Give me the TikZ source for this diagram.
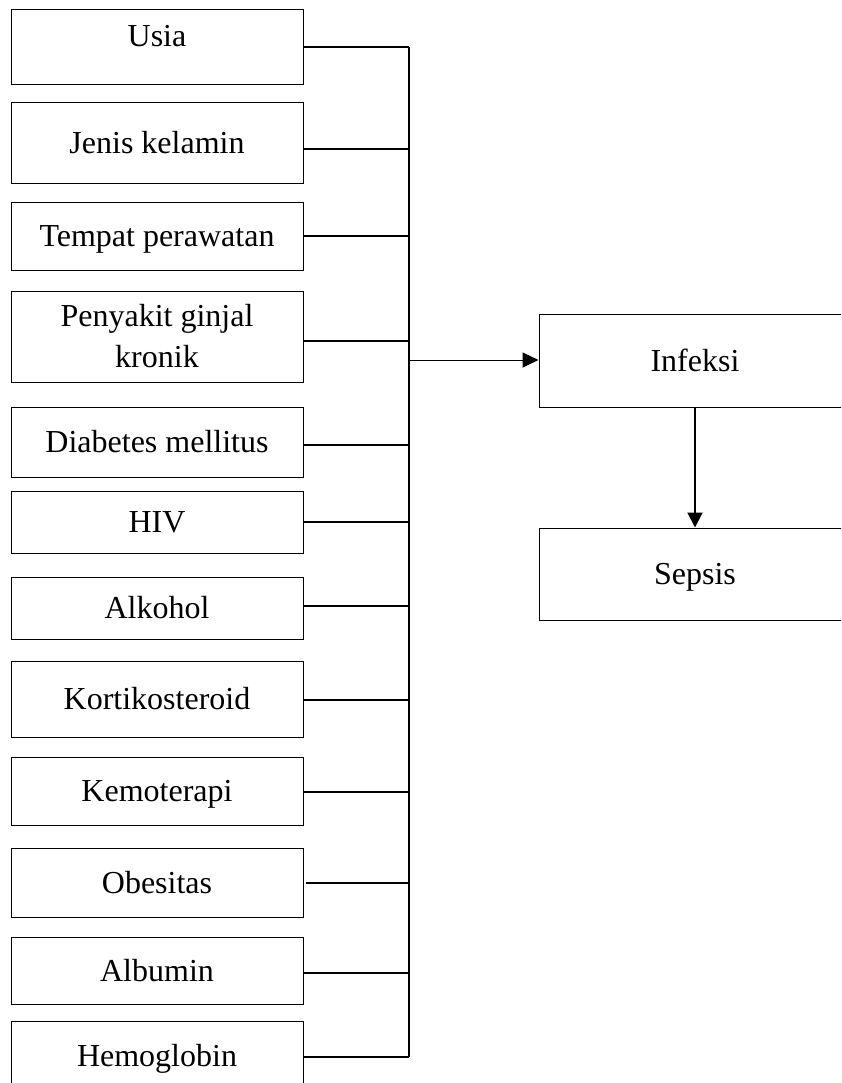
\documentclass[tikz,border=0pt]{standalone}
\usepackage{fontspec}
\setmainfont{Liberation Serif}
\usetikzlibrary{arrows.meta}
\begin{document}
\begin{tikzpicture}[x=1pt,y=1pt,
  box/.style={draw=black, line width=1pt, minimum width=292pt, inner sep=0pt,
    text height=21pt, text depth=0pt, align=center,
    font=\fontsize{32}{41}\selectfont},
  bus/.style={draw=black, line width=2pt},
  thinarrow/.style={draw=black, line width=1pt, -{Triangle[length=16pt,width=15pt]}},
  thickarrow/.style={draw=black, line width=2pt, -{Triangle[length=15pt,width=15pt]}}]
\useasboundingbox (0,0) rectangle (841,-1083);
\clip (0,0) rectangle (841,-1083);
% left column boxes
\node[box, minimum height=75pt, text depth=22pt] (usia) at (157,-47.5) {Usia};
\node[box, minimum height=81pt] (jk) at (157,-143.5) {Jenis kelamin};
\node[box, minimum height=67pt] (tp) at (157,-236.5) {Tempat perawatan};
\node[box, minimum height=91pt, text height=, text depth=] (pgk) at (157,-336.5) {Penyakit ginjal\\kronik};
\node[box, minimum height=70pt] (dm) at (157,-442) {Diabetes mellitus};
\node[box, minimum height=62pt] (hiv) at (157,-522) {HIV};
\node[box, minimum height=62pt] (alk) at (157,-608) {Alkohol};
\node[box, minimum height=76pt] (kort) at (157,-699) {Kortikosteroid};
\node[box, minimum height=68pt] (kemo) at (157,-791) {Kemoterapi};
\node[box, minimum height=69pt] (obes) at (157,-882.5) {Obesitas};
\node[box, minimum height=67pt] (alb) at (157,-970.5) {Albumin};
\node[box, minimum height=69pt] (hb) at (157,-1055.5) {Hemoglobin};
% right boxes
\node[box, minimum width=312pt, minimum height=93pt] (inf) at (695,-360.5) {Infeksi};
\node[box, minimum width=312pt, minimum height=92pt] (sep) at (695,-574) {Sepsis};
% bus
\coordinate (bustop) at (409,-47);
\coordinate (busbot) at (409,-1057);
\coordinate (busmid) at (409,-360);
\draw[bus] (bustop) -- (busbot);
\draw[bus] (usia.east |- bustop) -- (bustop);
\draw[bus] ([yshift=-5.5pt]jk.east) -- ([yshift=-5.5pt]jk.east -| bustop);
\draw[bus] (tp.east) -- (tp.east -| bustop);
\draw[bus] ([yshift=-4.5pt]pgk.east) -- ([yshift=-4.5pt]pgk.east -| bustop);
\draw[bus] ([yshift=-3pt]dm.east) -- ([yshift=-3pt]dm.east -| bustop);
\draw[bus] (hiv.east) -- (hiv.east -| bustop);
\draw[bus] ([yshift=2pt]alk.east) -- ([yshift=2pt]alk.east -| bustop);
\draw[bus] ([yshift=-1pt]kort.east) -- ([yshift=-1pt]kort.east -| bustop);
\draw[bus] ([yshift=-1pt]kemo.east) -- ([yshift=-1pt]kemo.east -| bustop);
\draw[bus] ([xshift=2pt,yshift=-0.5pt]obes.east) -- ([yshift=-0.5pt]obes.east -| bustop);
\draw[bus] ([yshift=-2.5pt]alb.east) -- ([yshift=-2.5pt]alb.east -| bustop);
\draw[bus] (hb.east |- busbot) -- (busbot);
% arrows
\draw[thinarrow] (busmid) -- (busmid -| inf.west);
\draw[thickarrow] (inf.south) -- (sep.north);
\end{tikzpicture}
\end{document}
